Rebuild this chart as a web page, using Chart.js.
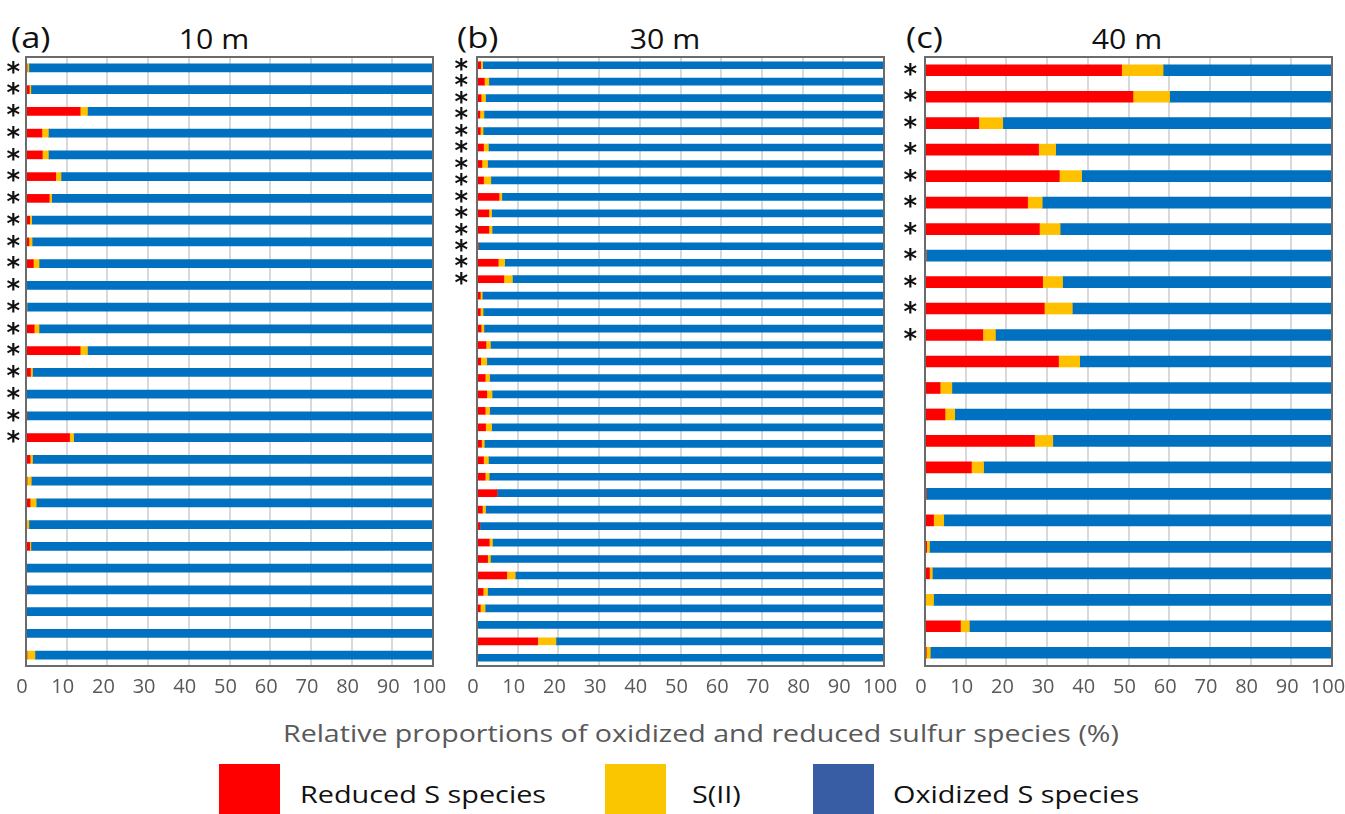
<!DOCTYPE html>
<html>
<head>
<meta charset="utf-8">
<script src="https://cdn.jsdelivr.net/npm/chart.js@4.4.1/dist/chart.umd.min.js"></script>
<style>
  body { margin: 0; width: 1345px; height: 814px; overflow: hidden; background: #fff; position: relative; font-family: 'Open Sans', sans-serif; }
  canvas { position: absolute; }
  .t { position: absolute; white-space: nowrap; height: 40px; line-height: 40px; transform-origin: left center; }
  .c { transform: translateX(-50%) scaleX(1.08); transform-origin: center center; }
  .sw { position: absolute; top: 764px; width: 61px; height: 50px; }
</style>
</head>
<body>
<div class="t" style="left:11px;top:17px;font-size:30px;color:#111;transform:scaleX(1.15)">(a)</div>
<div class="t c" style="left:214px;top:18px;font-size:28px;color:#111">10 m</div>
<div class="t" style="left:457px;top:17px;font-size:30px;color:#111;transform:scaleX(1.15)">(b)</div>
<div class="t c" style="left:665px;top:18px;font-size:28px;color:#111">30 m</div>
<div class="t" style="left:906px;top:17px;font-size:30px;color:#111;transform:scaleX(1.15)">(c)</div>
<div class="t c" style="left:1127px;top:18px;font-size:28px;color:#111">40 m</div>

<canvas id="chartA" width="460" height="660" style="left:0;top:50px"></canvas>
<canvas id="chartB" width="460" height="660" style="left:450px;top:50px"></canvas>
<canvas id="chartC" width="460" height="660" style="left:900px;top:50px"></canvas>

<div class="t" style="left:283px;top:713px;font-size:24px;color:#595959;transform:scaleX(1.19)">Relative proportions of oxidized and reduced sulfur species (%)</div>

<div class="sw" style="left:219px;background:#ff0000"></div>
<div class="t" style="left:300px;top:774px;font-size:24px;color:#111;transform:scaleX(1.2)">Reduced S species</div>
<div class="sw" style="left:605px;background:#f9c600"></div>
<div class="t" style="left:692px;top:774px;font-size:24px;color:#111;transform:scaleX(1.2)">S(II)</div>
<div class="sw" style="left:813px;background:#385da5"></div>
<div class="t" style="left:893px;top:774px;font-size:24px;color:#111;transform:scaleX(1.2)">Oxidized S species</div>

<script>
// (a) 10 m
const marksA = ['*','*','*','*','*','*','*','*','*','*','*','*','*','*','*','*','*','*','','','','','','','','','',''];
const reducedA = [0.1, 0.8, 13.3, 3.9, 4.0, 7.3, 5.7, 0.9, 0.7, 1.8, 0, 0, 2.0, 13.3, 1.1, 0, 0.2, 10.7, 1.0, 0.2, 1.0, 0, 0.9, 0, 0.1, 0, 0, 0.2];
const s2A      = [0.6, 0.4, 1.8, 1.6, 1.5, 1.3, 0.6, 0.5, 0.8, 1.4, 0, 0.2, 1.2, 1.8, 0.5, 0, 0, 1.0, 0.6, 1.1, 1.5, 0.7, 0.3, 0, 0, 0, 0, 2.0];
const oxidizedA = [99.3, 98.8, 84.9, 94.5, 94.5, 91.4, 93.7, 98.6, 98.5, 96.8, 100, 99.8, 96.8, 84.9, 98.4, 100, 99.8, 88.3, 98.4, 98.7, 97.5, 99.3, 98.8, 100, 99.9, 100, 100, 97.8];

// (b) 30 m
const marksB = ['*','*','*','*','*','*','*','*','*','*','*','*','*','*','','','','','','','','','','','','','','','','','','','','','','',''];
const reducedB = [0.9, 1.8, 1.0, 0.7, 0.8, 1.6, 1.2, 1.6, 5.4, 2.9, 2.9, 0.3, 5.2, 6.6, 0.8, 0.8, 1.0, 2.2, 0.9, 2.0, 2.4, 2.0, 2.1, 1.1, 1.6, 2.0, 4.9, 1.3, 0.7, 3.0, 2.6, 7.3, 1.5, 0.8, 0, 14.9, 0];
const s2B      = [0.5, 1.1, 1.1, 1.0, 0.7, 1.2, 1.4, 1.8, 0.7, 0.7, 0.8, 0, 1.6, 2.1, 0.5, 0.7, 0.7, 1.1, 1.5, 1.1, 1.3, 1.1, 1.5, 0.7, 1.2, 1.0, 0, 0.8, 0, 0.8, 0.7, 2.1, 1.1, 1.2, 0, 4.5, 0];
const oxidizedB = [98.6, 97.1, 97.9, 98.3, 98.5, 97.2, 97.4, 96.6, 93.9, 96.4, 96.3, 99.7, 93.2, 91.3, 98.7, 98.5, 98.3, 96.7, 97.6, 96.9, 96.3, 96.9, 96.4, 98.2, 97.2, 97.0, 95.1, 97.9, 99.3, 96.2, 96.7, 90.6, 97.4, 98.0, 100, 80.6, 100];

// (c) 40 m
const marksC = ['*','*','*','*','*','*','*','*','*','*','*','','','','','','','','','','','',''];
const reducedC = [48.3, 51.1, 13.2, 27.9, 33.0, 25.2, 28.1, 0.1, 28.9, 29.3, 14.2, 32.8, 3.7, 4.9, 26.9, 11.4, 0.3, 2.1, 0.4, 1.1, 0, 8.7, 0.3];
const s2C      = [10.2, 9.0, 5.9, 4.2, 5.5, 3.6, 5.1, 0.2, 4.9, 6.9, 3.1, 5.2, 2.9, 2.4, 4.5, 3.0, 0, 2.5, 0.7, 0.7, 2.1, 2.2, 1.0];
const oxidizedC = [41.5, 39.9, 80.9, 67.9, 61.5, 71.2, 66.8, 99.7, 66.2, 63.8, 82.7, 62.0, 93.4, 92.7, 68.6, 85.6, 99.7, 95.4, 98.9, 98.2, 97.9, 89.1, 98.7];

const xTicks = ['0','10','20','30','40','50','60','70','80','90','100'];

// box around the plot area
const framePlugin = {
  id: 'frame',
  afterDraw(chart) {
    const a = chart.chartArea, c = chart.ctx;
    c.save();
    c.strokeStyle = '#6b6b6b';
    c.lineWidth = 2;
    c.strokeRect(a.left, a.top, a.right - a.left, a.bottom - a.top);
    c.restore();
  }
};

function makePanel(id, marks, red, yel, blue, thick, yWidth, starPad) {
  return new Chart(document.getElementById(id).getContext('2d'), {
    type: 'bar',
    data: {
      labels: marks,
      datasets: [
        { label: 'Reduced S species', data: red, backgroundColor: '#ff0000' },
        { label: 'S(II)', data: yel, backgroundColor: '#ffc000' },
        { label: 'Oxidized S species', data: blue, backgroundColor: '#0070c0' }
      ]
    },
    options: {
      indexAxis: 'y',
      responsive: false,
      animation: false,
      layout: { padding: { top: 7, right: 460 - yWidth - 407, left: 0, bottom: 0 } },
      datasets: { bar: { barThickness: thick } },
      plugins: { legend: { display: false }, tooltip: { enabled: false } },
      scales: {
        x: {
          stacked: true,
          min: 0,
          max: 100,
          ticks: {
            stepSize: 10,
            autoSkip: false,
            maxRotation: 0,
            color: '#595959',
            font: { family: 'Open Sans', size: 20 },
            padding: 9,
            labelOffset: -4,
            callback: (v, i) => xTicks[i]
          },
          grid: { color: '#d9d9d9', lineWidth: 2, drawTicks: false },
          border: { display: false },
          afterFit(s) { s.height = 44; s.paddingLeft = 0; s.paddingRight = 0; }
        },
        y: {
          stacked: true,
          ticks: {
            autoSkip: false,
            color: '#111',
            font: { family: 'DejaVu Sans', size: 26, weight: 'bold' },
            padding: starPad,
            labelOffset: 6
          },
          grid: { display: false, drawTicks: false },
          border: { display: false },
          afterFit(s) { s.width = yWidth; s.paddingTop = 0; s.paddingBottom = 0; }
        }
      }
    },
    plugins: [framePlugin]
  });
}

makePanel('chartA', marksA, reducedA, s2A, oxidizedA, 8, 26, 6);
makePanel('chartB', marksB, reducedB, s2B, oxidizedB, 7, 27, 9);
makePanel('chartC', marksC, reducedC, s2C, oxidizedC, 11, 25, 8);
</script>
</body>
</html>
